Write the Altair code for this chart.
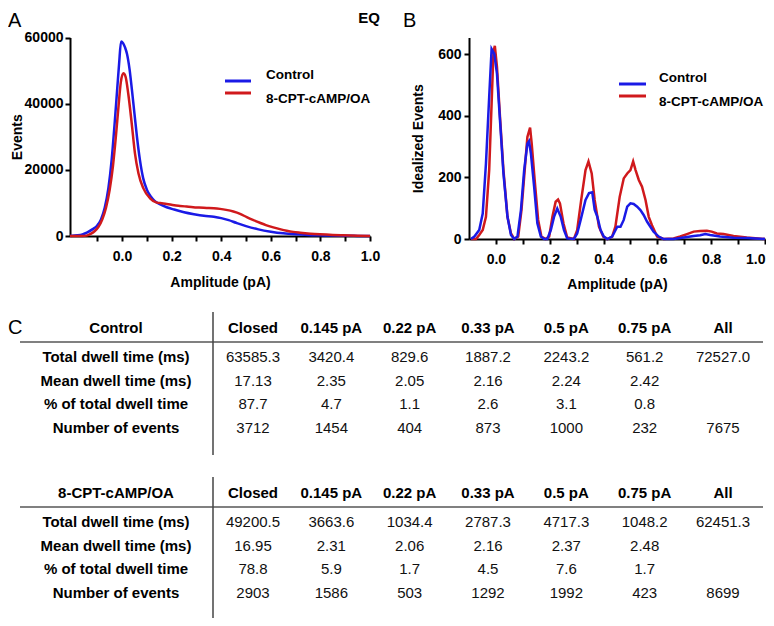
import altair as alt
import pandas as pd

# ---------------- data ----------------
series = ["Control", "8-CPT-cAMP/OA"]
series_colors = ["#1a1ae6", "#d0191c"]

# Panel A: all-points amplitude histogram (Events)
a_ctrl_x = [-0.21, -0.18, -0.16, -0.14, -0.12, -0.10, -0.085, -0.07, -0.055, -0.042, -0.03, -0.02,
            -0.012, -0.004, 0.004, 0.012, 0.02, 0.03, 0.04, 0.05, 0.06, 0.072, 0.085, 0.10, 0.115,
            0.13, 0.15, 0.18, 0.21, 0.25, 0.29, 0.33, 0.37, 0.40, 0.43, 0.46, 0.50, 0.55, 0.60,
            0.65, 0.70, 0.75, 0.80, 0.85, 0.90, 0.95, 1.0]
a_ctrl_y = [0, 200, 500, 1100, 2000, 3200, 5000, 8500, 14500, 23000, 34000, 44000,
            52000, 58800, 58300, 57000, 55000, 50500, 44000, 37000, 30000, 23000, 17500, 14000, 12000,
            10700, 9700, 8700, 8000, 7200, 6600, 6100, 5800, 5400, 4800, 4000, 3000, 2000, 1300,
            800, 500, 300, 200, 120, 60, 30, 0]
a_cpt_x = [-0.21, -0.16, -0.14, -0.125, -0.11, -0.095, -0.08, -0.065, -0.05, -0.037, -0.025, -0.014,
           -0.005, 0.005, 0.014, 0.025, 0.039, 0.052, 0.066, 0.086, 0.113, 0.14, 0.16, 0.18, 0.21,
           0.234, 0.26, 0.287, 0.31, 0.341, 0.37, 0.395, 0.42, 0.449, 0.476, 0.503, 0.53, 0.556,
           0.58, 0.61, 0.64, 0.664, 0.69, 0.718, 0.76, 0.798, 0.85, 0.892, 0.95, 1.0]
a_cpt_y = [0, 0, 200, 700, 1500, 2800, 5000, 8500, 14000, 21000, 30000, 39500,
           46500, 49200, 48200, 43000, 34000, 25000, 19000, 14400, 11400, 10100, 9900, 9700, 9300,
           9100, 8900, 8700, 8600, 8500, 8400, 8200, 7900, 7400, 6700, 5700, 4800, 4000,
           3300, 2600, 2000, 1600, 1250, 1000, 700, 500, 300, 200, 80, 0]

# Panel B: idealized events
b_ctrl_x = [-0.093, -0.080, -0.062, -0.049, -0.037, -0.025, -0.016, -0.006, 0.004, 0.016, 0.028,
            0.043, 0.056, 0.068, 0.080, 0.093, 0.105, 0.117, 0.123, 0.130, 0.142, 0.154, 0.167,
            0.179, 0.191, 0.204, 0.216, 0.228, 0.241, 0.253, 0.265, 0.290, 0.302, 0.315, 0.333,
            0.346, 0.358, 0.367, 0.377, 0.389, 0.401, 0.414, 0.432, 0.451, 0.463, 0.475, 0.488,
            0.500, 0.512, 0.525, 0.537, 0.549, 0.562, 0.574, 0.586, 0.605, 0.623, 0.660, 0.698,
            0.735, 0.759, 0.778, 0.796, 0.833, 0.883, 0.932, 1.0]
b_ctrl_y = [0, 8, 29, 83, 245, 461, 618, 602, 537, 375, 213,
            72, 13, 0, 8, 94, 224, 310, 318, 278, 170, 51, 8,
            0, 0, 29, 72, 99, 72, 29, 2, 0, 18, 62, 127,
            149, 152, 95, 72, 29, 8, 0, 8, 40, 40, 62, 105,
            116, 114, 105, 94, 78, 56, 40, 24, 8, 0, 0, 5,
            10, 12, 16, 13, 8, 4, 3, 0]
b_cpt_x = [-0.093, -0.074, -0.062, -0.049, -0.037, -0.025, -0.016, -0.009, -0.004, 0.004, 0.016,
           0.028, 0.043, 0.056, 0.068, 0.083, 0.095, 0.107, 0.117, 0.127, 0.133, 0.144, 0.157,
           0.169, 0.185, 0.198, 0.210, 0.222, 0.231, 0.238, 0.251, 0.265, 0.290, 0.302, 0.317,
           0.333, 0.344, 0.356, 0.367, 0.383, 0.399, 0.414, 0.432, 0.444, 0.460, 0.475, 0.488,
           0.500, 0.510, 0.519, 0.531, 0.543, 0.556, 0.568, 0.580, 0.599, 0.623, 0.660, 0.685,
           0.710, 0.735, 0.759, 0.784, 0.802, 0.821, 0.846, 0.883, 0.932, 1.0]
b_cpt_y = [0, 0, 13, 29, 72, 224, 440, 610, 628, 559, 386,
           224, 72, 18, 0, 8, 94, 224, 332, 362, 310, 192, 62,
           8, 0, 8, 72, 121, 128, 116, 51, 5, 0, 29, 127,
           224, 252, 213, 127, 40, 8, 0, 8, 40, 137, 197, 213,
           224, 252, 224, 192, 170, 127, 72, 45, 8, 0, 2, 8,
           16, 24, 26, 27, 24, 18, 16, 10, 5, 0]

a_x_ticks = [-0.1, 0.0, 0.1, 0.2, 0.3, 0.4, 0.5, 0.6, 0.7, 0.8, 0.9, 1.0]
a_y_ticks = [0, 20000, 40000, 60000]
b_x_ticks = [0.0, 0.1, 0.2, 0.3, 0.4, 0.5, 0.6, 0.7, 0.8, 0.9, 1.0]
b_y_ticks = [0, 200, 400, 600]

# Panel C: tables
table_columns = ["Closed", "0.145 pA", "0.22 pA", "0.33 pA", "0.5 pA", "0.75 pA", "All"]
table_rows = ["Total dwell time (ms)", "Mean dwell time (ms)", "% of total dwell time", "Number of events"]
control_total = ["63585.3", "3420.4", "829.6", "1887.2", "2243.2", "561.2", "72527.0"]
control_mean = ["17.13", "2.35", "2.05", "2.16", "2.24", "2.42", ""]
control_pct = ["87.7", "4.7", "1.1", "2.6", "3.1", "0.8", ""]
control_events = ["3712", "1454", "404", "873", "1000", "232", "7675"]
cpt_total = ["49200.5", "3663.6", "1034.4", "2787.3", "4717.3", "1048.2", "62451.3"]
cpt_mean = ["16.95", "2.31", "2.06", "2.16", "2.37", "2.48", ""]
cpt_pct = ["78.8", "5.9", "1.7", "4.5", "7.6", "1.7", ""]
cpt_events = ["2903", "1586", "503", "1292", "1992", "423", "8699"]

# ---------------- layout helpers ----------------
W, H = 758, 610
M = 8


def px(v):
    return v - M


def py(v):
    return v - M


FONT = "Liberation Sans, Arial, sans-serif"
TFONT = "Liberation Sans, Arial, sans-serif"
TSIZE = 15
one = pd.DataFrame({"k": [0]})

color_enc = alt.Color("series:N", scale=alt.Scale(domain=series, range=series_colors), legend=None)

common_axis = dict(grid=False, domainColor="black", tickColor="black", labelColor="black",
                   titleColor="black", domainWidth=2, tickWidth=2, labelFont=FONT, titleFont=FONT,
                   labelFontSize=14, labelFontWeight="bold", titleFontSize=14, titleFontWeight="bold",
                   labelOverlap=False)

layers = []

# ---------------- Panel A ----------------
dfA = pd.concat([
    pd.DataFrame({"amp": a_ctrl_x, "events": a_ctrl_y, "series": series[0]}),
    pd.DataFrame({"amp": a_cpt_x, "events": a_cpt_y, "series": series[1]}),
], ignore_index=True)

lineA = alt.Chart(dfA).mark_line(strokeWidth=2.5, interpolate="monotone").encode(
    x=alt.X("amp:Q",
            scale=alt.Scale(domain=[-0.21, 1.0], range=[px(70), px(370)], nice=False, zero=False),
            axis=alt.Axis(orient="bottom", offset=py(236) - H, values=a_x_ticks, labelFlush=False,
                          labelExpr="(abs(round(datum.value * 10)) % 2 == 0 && datum.value > -0.05) ? format(datum.value, '.1f') : ''",
                          title="Amplitude (pA)", tickSize=5, labelPadding=8, titlePadding=12,
                          **common_axis)),
    y=alt.Y("events:Q",
            scale=alt.Scale(domain=[0, 60000], range=[py(236), py(37.5)], nice=False),
            axis=alt.Axis(orient="left", offset=-px(70), values=a_y_ticks, format="d", labelFlush=False,
                          title="Events", tickSize=5, labelPadding=2, titlePadding=0,
                          **common_axis)),
    color=color_enc,
)
layers.append(lineA)

# ---------------- Panel B ----------------
dfB = pd.concat([
    pd.DataFrame({"amp": b_cpt_x, "events": b_cpt_y, "series": series[1]}),
    pd.DataFrame({"amp": b_ctrl_x, "events": b_ctrl_y, "series": series[0]}),
], ignore_index=True)

lineB = alt.Chart(dfB).mark_line(strokeWidth=2.5).encode(
    x=alt.X("amp:Q",
            scale=alt.Scale(domain=[-0.1, 1.0], range=[px(469), px(765)], nice=False, zero=False),
            axis=alt.Axis(orient="bottom", offset=py(239) - H, values=b_x_ticks, labelFlush=True,
                          labelExpr="abs(round(datum.value * 10)) % 2 == 0 ? format(datum.value, '.1f') : ''",
                          title="Amplitude (pA)", tickSize=5, labelPadding=8, titlePadding=11,
                          **common_axis)),
    y=alt.Y("events:Q",
            scale=alt.Scale(domain=[0, 655], range=[py(239), py(37.5)], nice=False),
            axis=alt.Axis(orient="left", offset=-px(469), values=b_y_ticks, format="d", labelFlush=False,
                          title="Idealized Events", tickSize=5, labelPadding=3, titlePadding=12,
                          **common_axis)),
    color=color_enc,
)
layers.append(lineB)

# ---------------- legends ----------------
leg_df = pd.DataFrame({"series": series})


def legend_layers(x0, x1, xt, y0, y1):
    ysc = alt.Y("series:N", scale=alt.Scale(domain=series, range=[py(y0), py(y1)], padding=0), axis=None)
    sw = alt.Chart(leg_df).mark_rule(strokeWidth=3).encode(
        x=alt.value(px(x0)), x2=alt.value(px(x1)), y=ysc, color=color_enc)
    tx = alt.Chart(leg_df).mark_text(align="left", baseline="middle", font=FONT, fontSize=13.5,
                                     fontWeight="bold", color="black").encode(
        x=alt.value(px(xt)), y=ysc, text="series:N")
    return [sw, tx]


layers += legend_layers(225, 251, 266, 75, 99)
layers += legend_layers(619, 646, 659, 78, 102)


# ---------------- panel letters ----------------
def label(txt, x, y, size, weight="normal", align="left"):
    return alt.Chart(one).mark_text(align=align, baseline="alphabetic", font=FONT, fontSize=size,
                                    fontWeight=weight, color="black").encode(
        x=alt.value(px(x)), y=alt.value(py(y)), text=alt.value(txt))


layers.append(label("A", 8, 27, 20))
layers.append(label("EQ", 380, 23, 15, "bold", "right"))
layers.append(label("B", 403, 27, 20))
layers.append(label("C", 8, 334, 20))


# ---------------- tables ----------------
def table_layers(title, rows_vals, header_y, vtop, vbot):
    out = []
    col_scale = alt.Scale(domain=table_columns, range=[px(253), px(723)], padding=0)
    row_scale = alt.Scale(domain=table_rows, range=[py(header_y + 29), py(header_y + 100)], padding=0)
    # lines
    out.append(alt.Chart(one).mark_rule(color="#808080", strokeWidth=2).encode(
        x=alt.value(px(20)), x2=alt.value(px(763)), y=alt.value(py(header_y + 14))))
    out.append(alt.Chart(one).mark_rule(color="#444444", strokeWidth=1.5).encode(
        x=alt.value(px(213)), y=alt.value(py(vtop)), y2=alt.value(py(vbot))))
    # header
    hdr = pd.DataFrame({"col": table_columns})
    out.append(alt.Chart(hdr).mark_text(font=TFONT, fontSize=TSIZE, fontWeight="bold", baseline="middle",
                                        align="center", color="black").encode(
        x=alt.X("col:N", scale=col_scale, axis=None), y=alt.value(py(header_y)), text="col:N"))
    out.append(alt.Chart(pd.DataFrame({"t": [title]})).mark_text(
        font=TFONT, fontSize=TSIZE, fontWeight="bold", baseline="middle", align="center", color="black").encode(
        x=alt.value(px(116)), y=alt.value(py(header_y)), text="t:N"))
    # row labels
    out.append(alt.Chart(pd.DataFrame({"row": table_rows})).mark_text(
        font=TFONT, fontSize=TSIZE, fontWeight="bold", baseline="middle", align="center", color="black").encode(
        x=alt.value(px(116)), y=alt.Y("row:N", scale=row_scale, axis=None), text="row:N"))
    # values
    recs = []
    for rname, vals in zip(table_rows, rows_vals):
        for cname, v in zip(table_columns, vals):
            if v != "":
                recs.append({"row": rname, "col": cname, "val": v})
    out.append(alt.Chart(pd.DataFrame(recs)).mark_text(
        font=TFONT, fontSize=TSIZE, baseline="middle", align="center", color="#111111").encode(
        x=alt.X("col:N", scale=col_scale, axis=None),
        y=alt.Y("row:N", scale=row_scale, axis=None),
        text="val:N"))
    return out


layers += table_layers("Control", [control_total, control_mean, control_pct, control_events], 328, 312, 455)
layers += table_layers("8-CPT-cAMP/OA", [cpt_total, cpt_mean, cpt_pct, cpt_events], 493, 477, 640)

chart = alt.layer(*layers).resolve_scale(
    x="independent", y="independent"
).properties(
    width=W, height=H, autosize=alt.AutoSizeParams(type="none"), padding=0
).configure_view(stroke=None)

chart.save("out.html", embed_options={"renderer": "svg", "actions": False})
